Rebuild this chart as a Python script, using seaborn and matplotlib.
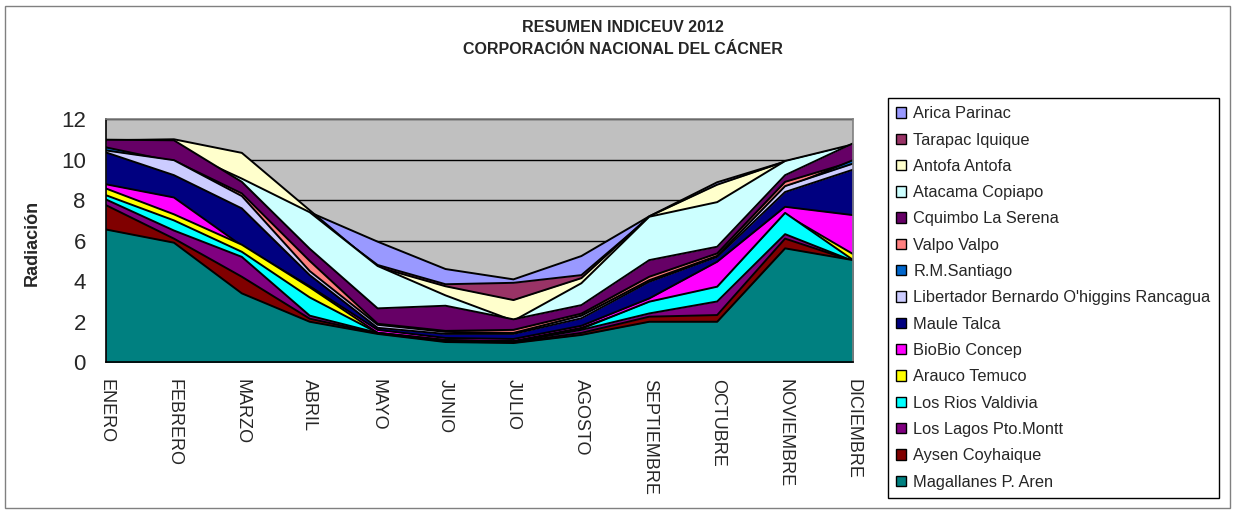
import numpy as np
import pandas as pd
import seaborn as sns
import matplotlib.pyplot as plt
from matplotlib.patches import Patch, Rectangle

# meses del eje x
meses = ['ENERO', 'FEBRERO', 'MARZO', 'ABRIL', 'MAYO', 'JUNIO', 'JULIO',
         'AGOSTO', 'SEPTIEMBRE', 'OCTUBRE', 'NOVIEMBRE', 'DICIEMBRE']

# indice UV por region
arica = [10.8, 10.7, 9.6, 7.4, 5.95, 4.6, 4.09, 5.24, 7.2, 8.88, 9.9, 10.7]
tarapaca = [10.9, 10.8, 9.8, 7.3, 4.8, 3.85, 3.92, 4.3, 7.15, 8.65, 9.85, 10.7]
antofagasta = [10.95, 11.0, 10.33, 7.5, 4.7, 3.75, 3.07, 4.15, 7.2, 8.76, 9.9, 10.7]
atacama = [10.6, 10.6, 9.06, 7.4, 4.75, 3.3, 2.05, 3.9, 7.18, 7.9, 9.93, 10.75]
coquimbo = [10.98, 10.95, 8.9, 5.6, 2.66, 2.79, 2.12, 2.82, 5.04, 5.7, 9.23, 10.8]
valparaiso = [10.0, 9.95, 8.33, 5.0, 1.9, 1.55, 1.6, 2.4, 4.22, 5.37, 8.9, 9.9]
santiago = [10.6, 9.9, 8.0, 4.3, 1.75, 1.35, 1.4, 2.3, 4.0, 5.2, 8.6, 9.97]
libertador = [10.45, 9.97, 8.2, 4.5, 1.85, 1.5, 1.45, 2.3, 4.05, 5.25, 8.69, 9.8]
maule = [10.35, 9.23, 7.59, 4.3, 1.7, 1.4, 1.4, 2.17, 3.97, 5.2, 8.4, 9.5]
biobio = [8.78, 8.13, 5.75, 3.75, 1.6, 1.2, 1.15, 1.8, 3.15, 4.96, 7.67, 7.26]
araucania = [8.57, 7.3, 5.8, 3.7, 1.45, 1.1, 1.05, 1.7, 2.9, 3.6, 7.3, 5.34]
los_rios = [8.24, 7.0, 5.45, 3.2, 1.45, 1.05, 1.0, 1.65, 2.99, 3.73, 7.37, 5.05]
los_lagos = [8.03, 6.5, 5.2, 2.3, 1.45, 1.1, 1.0, 1.6, 2.41, 3.0, 6.32, 5.0]
aysen = [7.75, 6.1, 4.22, 2.15, 1.42, 1.05, 0.98, 1.45, 2.25, 2.33, 6.1, 5.0]
magallanes = [6.55, 5.9, 3.4, 2.0, 1.4, 1.0, 0.95, 1.35, 2.0, 2.0, 5.62, 5.04]

nombres = ['Arica Parinac', 'Tarapac Iquique', 'Antofa Antofa', 'Atacama Copiapo',
           'Cquimbo La Serena', 'Valpo Valpo', 'R.M.Santiago',
           "Libertador Bernardo O'higgins Rancagua", 'Maule Talca', 'BioBio Concep',
           'Arauco Temuco', 'Los Rios Valdivia', 'Los Lagos Pto.Montt',
           'Aysen Coyhaique', 'Magallanes P. Aren']
colores = ['#9999FF', '#993366', '#FFFFCC', '#CCFFFF', '#660066', '#FF8080',
           '#0066CC', '#CCCCFF', '#000080', '#FF00FF', '#FFFF00', '#00FFFF',
           '#800080', '#800000', '#008080']
valores = [arica, tarapaca, antofagasta, atacama, coquimbo, valparaiso, santiago,
           libertador, maule, biobio, araucania, los_rios, los_lagos, aysen, magallanes]

df = pd.DataFrame({n: v for n, v in zip(nombres, valores)}, index=meses)

sns.set_style('white')
plt.rcParams['font.family'] = ['Liberation Sans', 'DejaVu Sans']

fig = plt.figure(figsize=(12.34, 5.12), dpi=100)
ax = fig.add_axes([106 / 1234, 1 - 362.3 / 512, 747 / 1234, 243.3 / 512])
ax.set_facecolor('#C0C0C0')

# areas superpuestas: cada serie desde 0, la ultima queda delante
x = np.arange(len(meses))
for i, n in enumerate(nombres):
    ax.fill_between(x, 0, df[n].values, color=colores[i], lw=0, zorder=2 + 2 * i)
    sns.lineplot(x=x, y=df[n].values, color='black', lw=1.4, ax=ax, legend=False)
    ax.lines[-1].set_zorder(3 + 2 * i)

ax.set_xlim(0, 11)
ax.set_ylim(0, 12)
ax.set_yticks(range(0, 13, 2))
ax.set_xticks(x)
ax.set_xticklabels(meses, rotation=270, fontsize=13, va='top', ha='center')
ax.tick_params(axis='y', labelsize=16, direction='out', length=4.5, width=1, color='black', pad=10)
ax.tick_params(axis='x', direction='out', length=4, width=1, color='black', pad=8)
ax.yaxis.grid(True, color='black', lw=1)
ax.set_axisbelow(True)
ax.set_xlabel('')
ax.set_ylabel('Radiación', fontsize=13, fontweight='bold')
ax.yaxis.set_label_coords(-0.088, 0.49)
for s in ['left', 'bottom']:
    ax.spines[s].set_color('black')
for s in ['top', 'right']:
    ax.spines[s].set_color('#808080')
for s in ax.spines.values():
    s.set_linewidth(1.2)
    s.set_zorder(50)

fig.text(0.5045, 1 - 27 / 512, 'RESUMEN INDICEUV 2012', ha='center', va='center',
         fontsize=11.5, fontweight='bold')
fig.text(0.5045, 1 - 50 / 512, 'CORPORACIÓN NACIONAL DEL CÁCNER', ha='center', va='center',
         fontsize=11.5, fontweight='bold')

handles = [Patch(facecolor=c, edgecolor='black', lw=1) for c in colores]
leg = fig.legend(handles, nombres, loc='upper left', bbox_to_anchor=(888 / 1234, 1 - 98 / 512),
                 borderaxespad=0, fontsize=11.8, frameon=True, fancybox=False,
                 edgecolor='black', framealpha=1, handlelength=0.6, handleheight=0.6,
                 handletextpad=0.45, labelspacing=0.69, borderpad=0.5)
leg.get_frame().set_linewidth(1)

fig.patches.append(Rectangle((5 / 1234, 4 / 512), 1225 / 1234, 502 / 512, transform=fig.transFigure,
                             fill=False, edgecolor='#808080', lw=1))

fig.savefig('out.png', dpi=100)
